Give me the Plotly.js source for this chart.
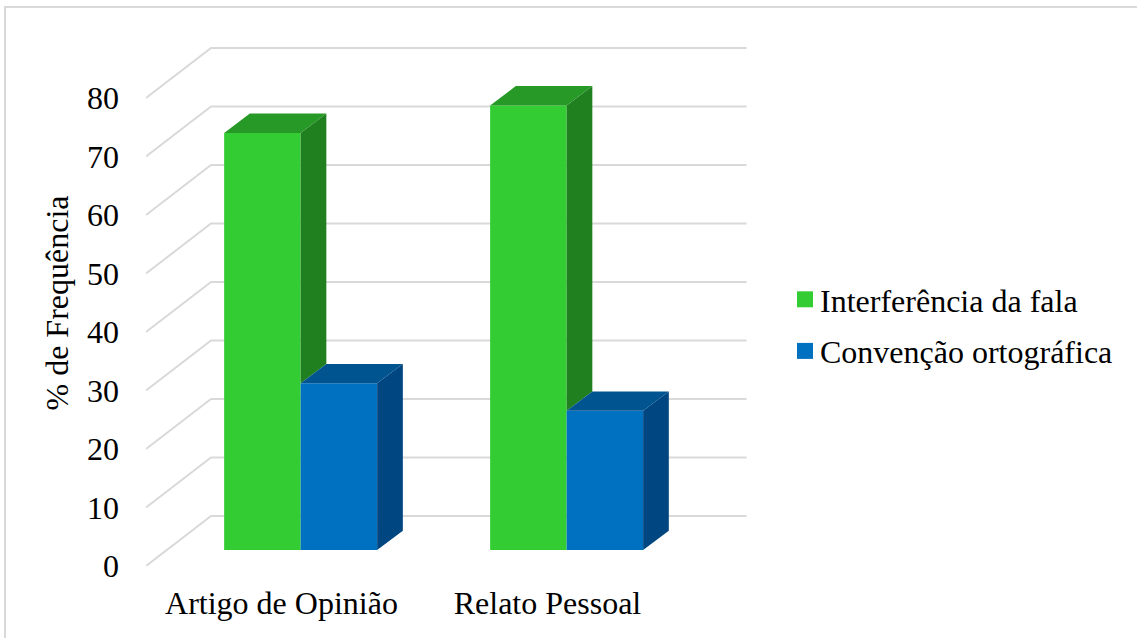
<!DOCTYPE html>
<html>
<head>
<meta charset="utf-8">
<script src="https://cdn.plot.ly/plotly-3.0.0.min.js"></script>
<style>html,body{margin:0;padding:0;background:#fff}#chart{width:1137px;height:638px}</style>
</head>
<body>
<div id="chart"></div>
<script>
const categories = ["Artigo de Opinião", "Relato Pessoal"];
const interferencia = [71.3, 76];
const convencao = [28.5, 23.8];
const yTicks = [0, 10, 20, 30, 40, 50, 60, 70, 80];

const W = 1137, H = 638, FONT = "'Liberation Serif','Times New Roman',serif";
const pxX = 266, pxY = 5.85;              // pixels per axis unit
const xRange = [-0.5094, 1.749], yRange = [0, 526 / pxY];
const wallDX = 65 / pxX, wallDY = 50 / pxY;     // depth of the chart box
const barDX = 25.7 / pxX, barDY = 19.3 / pxY;   // depth of a bar
const floor = 16 / pxY;                   // bar front base above axis zero
const barW = 76.5 / pxX, shift = 0.072;   // bar width and offset from tick

const GREEN = "#33cc33", GREEN_TOP = "#269926", GREEN_SIDE = "#208020";
const BLUE = "#0070c0", BLUE_TOP = "#005490", BLUE_SIDE = "#004680";
const GRID = "#d9d9d9";

const xs = [0, 1];
function bar(name, vals, color, k) {
  return {type: "bar", name, x: xs, y: vals, base: floor, width: barW,
    offset: shift + (k - 1) * barW, marker: {color, line: {width: 0}},
    showlegend: false, hoverinfo: "skip"};
}
// lower[i] is the value at which the visible part of a side face starts
function face(vals, color, k, kind, lower) {
  const x = [], y = [];
  xs.forEach((c, i) => {
    const l = c + shift + (k - 1) * barW, r = l + barW, t = vals[i] + floor;
    const b = (lower ? lower[i] : 0) + floor;
    const px = kind === "top"
      ? [l, r, r + barDX, l + barDX, l]
      : [r, r + barDX, r + barDX, r, r];
    const py = kind === "top"
      ? [t, t, t + barDY, t + barDY, t]
      : [b, b + barDY, t + barDY, t, b];
    x.push(...px, null); y.push(...py, null);
  });
  return {type: "scatter", mode: "lines", x, y, fill: "toself", fillcolor: color,
    line: {width: 0, color}, showlegend: false, hoverinfo: "skip"};
}
function key(name, color) {
  return {type: "scatter", mode: "markers", name, x: [null], y: [null], legendgroup: name,
    marker: {symbol: "square", size: 16, color}, hoverinfo: "skip"};
}

const data = [
  bar("Interferência da fala", interferencia, GREEN, 0),
  bar("Convenção ortográfica", convencao, BLUE, 1),
  face(interferencia, GREEN_SIDE, 0, "side", convencao),
  face(interferencia, GREEN_TOP, 0, "top"),
  face(convencao, BLUE_SIDE, 1, "side"),
  face(convencao, BLUE_TOP, 1, "top"),
  key("Interferência da fala", GREEN),
  key("Convenção ortográfica", BLUE)
];

const shapes = [{type: "rect", xref: "paper", yref: "paper", layer: "below",
  x0: 5 / W, x1: 1.1, y0: -0.1, y1: 1 - 7 / H, line: {color: GRID, width: 2}, fillcolor: "#fff"}];
yTicks.forEach(v => {
  shapes.push({type: "path", layer: "below", xref: "x", yref: "y",
    path: `M${xRange[0]},${v}L${xRange[0] + wallDX},${v + wallDY}L${xRange[1]},${v + wallDY}`,
    line: {color: GRID, width: 2}});
});

const layout = {
  width: W, height: H, margin: {l: 0, r: 0, t: 0, b: 0},
  paper_bgcolor: "#fff", plot_bgcolor: "rgba(0,0,0,0)",
  font: {family: FONT, size: 32, color: "#000"},
  barmode: "overlay", showlegend: true,
  xaxis: {domain: [146 / W, 746.7 / W], range: xRange, type: "linear", tickmode: "array",
    tickvals: xs, ticktext: categories, showgrid: false, zeroline: false, showline: false,
    ticks: "", ticklabelstandoff: 15, fixedrange: true},
  yaxis: {domain: [1 - 566 / H, 1 - 40 / H], range: yRange, tickmode: "array", tickvals: yTicks,
    showgrid: false, zeroline: false, showline: false, ticks: "", ticklabelstandoff: 26,
    title: {text: "% de Frequência", standoff: 8, font: {family: FONT, size: 32, color: "#000"}},
    fixedrange: true},
  legend: {x: 780 / W, y: 1 - 272 / H, xanchor: "left", yanchor: "top", bgcolor: "rgba(0,0,0,0)",
    tracegroupgap: 7, font: {family: FONT, size: 32, color: "#000"}},
  shapes
};
Plotly.newPlot("chart", data, layout, {displayModeBar: false, staticPlot: true}).then(gd => {
  // Tighten the gap between the legend keys and their labels
  gd.querySelectorAll(".legend .legendsymbols").forEach(n => n.setAttribute("transform", "translate(5,0)"));
});
</script>
</body>
</html>
